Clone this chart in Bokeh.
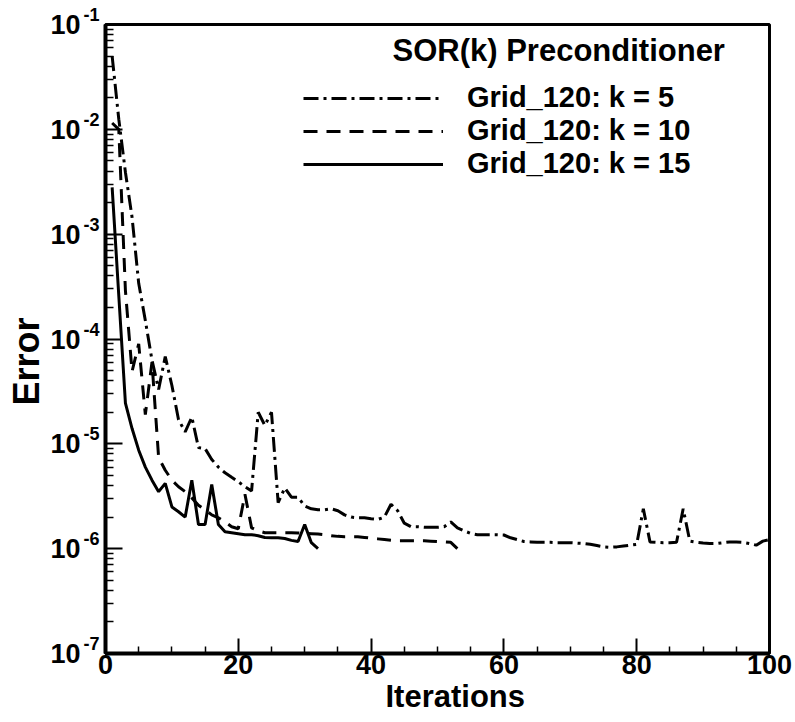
from bokeh.plotting import figure
from bokeh.models import (Range1d, FixedTicker, Legend, LegendItem, Label, Title,
                          CustomJSTickFormatter, LogAxis)
from bokeh.embed import file_html
from bokeh.resources import INLINE

# ---------------- data ----------------
iters_k5 = list(range(1, 101))
err_k5 = [5.0e-2, 1.25e-2, 3.9e-3, 1.45e-3, 3.4e-4, 1.5e-4, 6.3e-5, 3.3e-5, 6.8e-5, 3.6e-5,
          1.7e-5, 1.3e-5, 1.8e-5, 9.2e-6, 9.0e-6, 7.1e-6, 6.0e-6, 5.3e-6, 4.8e-6, 4.35e-6,
          3.9e-6, 3.55e-6, 2.0e-5, 1.5e-5, 2.0e-5, 2.75e-6, 3.8e-6, 3.1e-6, 3.1e-6, 2.55e-6,
          2.4e-6, 2.35e-6, 2.35e-6, 2.4e-6, 2.3e-6, 2.1e-6, 2.0e-6, 1.97e-6, 1.97e-6, 1.93e-6,
          1.9e-6, 2.0e-6, 2.65e-6, 2.3e-6, 1.75e-6, 1.62e-6, 1.62e-6, 1.6e-6, 1.6e-6, 1.6e-6,
          1.62e-6, 1.8e-6, 1.58e-6, 1.48e-6, 1.4e-6, 1.36e-6, 1.36e-6, 1.36e-6, 1.36e-6, 1.35e-6,
          1.27e-6, 1.22e-6, 1.17e-6, 1.16e-6, 1.15e-6, 1.15e-6, 1.15e-6, 1.14e-6, 1.14e-6, 1.14e-6,
          1.13e-6, 1.12e-6, 1.1e-6, 1.07e-6, 1.04e-6, 1.03e-6, 1.04e-6, 1.06e-6, 1.08e-6, 1.1e-6,
          2.4e-6, 1.16e-6, 1.15e-6, 1.14e-6, 1.14e-6, 1.15e-6, 2.4e-6, 1.18e-6, 1.15e-6, 1.13e-6,
          1.12e-6, 1.12e-6, 1.14e-6, 1.16e-6, 1.16e-6, 1.15e-6, 1.12e-6, 1.08e-6, 1.18e-6, 1.22e-6]

iters_k10 = list(range(1, 54))
err_k10 = [1.15e-2, 1.0e-2, 2.9e-4, 4.9e-5, 9.0e-5, 1.9e-5, 6.0e-5, 7.4e-6, 5.6e-6, 4.5e-6,
           3.9e-6, 3.5e-6, 3.05e-6, 2.6e-6, 2.35e-6, 2.1e-6, 1.97e-6, 1.8e-6, 1.62e-6, 1.55e-6,
           3.3e-6, 1.58e-6, 1.48e-6, 1.42e-6, 1.42e-6, 1.42e-6, 1.42e-6, 1.42e-6, 1.41e-6, 1.4e-6,
           1.39e-6, 1.38e-6, 1.36e-6, 1.33e-6, 1.31e-6, 1.3e-6, 1.3e-6, 1.3e-6, 1.28e-6, 1.26e-6,
           1.24e-6, 1.22e-6, 1.2e-6, 1.19e-6, 1.19e-6, 1.19e-6, 1.19e-6, 1.19e-6, 1.18e-6, 1.17e-6,
           1.16e-6, 1.15e-6, 1.0e-6]

iters_k15 = list(range(1, 33))
err_k15 = [2.8e-3, 2.6e-4, 2.45e-5, 1.4e-5, 8.7e-6, 6.0e-6, 4.5e-6, 3.5e-6, 4.2e-6, 2.5e-6,
           2.25e-6, 2.0e-6, 4.5e-6, 1.7e-6, 1.7e-6, 4.1e-6, 1.7e-6, 1.45e-6, 1.42e-6, 1.39e-6,
           1.36e-6, 1.36e-6, 1.33e-6, 1.28e-6, 1.27e-6, 1.27e-6, 1.25e-6, 1.2e-6, 1.17e-6, 1.7e-6,
           1.14e-6, 1.0e-6]

series_labels = ["Grid_120: k = 5", "Grid_120: k = 10", "Grid_120: k = 15"]
legend_title = "SOR(k) Preconditioner"
x_title = "Iterations"
y_title = "Error"

x_ticks = [0, 20, 40, 60, 80, 100]
x_minor = [v for v in range(0, 101, 5) if v % 20 != 0]
y_ticks = [1e-7, 1e-6, 1e-5, 1e-4, 1e-3, 1e-2, 1e-1]
y_tick_base = ["10", "10", "10", "10", "10", "10", "10"]
y_tick_exps = ["-7", "-6", "-5", "-4", "-3", "-2", "-1"]
y_minor = [m * 10.0 ** e for e in range(-7, -1) for m in range(2, 10)]

FONT = "Liberation Sans"

LOOKUP = """
let best = 0;
for (let i = 0; i < vals.length; i++) {
  if (Math.abs(Math.log10(vals[i] / tick)) < 1e-6) { best = i; }
}
return labels[best] + suffix;
"""

# ---------------- figure ----------------
p = figure(width=795, height=722, y_axis_type="log",
           x_range=Range1d(0, 100), y_range=Range1d(1e-7, 1e-1),
           output_backend="svg", toolbar_location=None,
           min_border_left=105, min_border_right=26,
           min_border_top=24, min_border_bottom=69)
p.background_fill_color = "white"
p.border_fill_color = "white"
p.outline_line_color = "black"
p.outline_line_width = 3
p.xgrid.visible = False
p.ygrid.visible = False

# x axis
xa = p.xaxis[0]
xa.ticker = FixedTicker(ticks=x_ticks, minor_ticks=x_minor)
xa.axis_line_width = 4
xa.major_tick_in = 15
xa.major_tick_out = 0
xa.minor_tick_in = 7
xa.minor_tick_out = 0
xa.major_tick_line_width = 2
xa.minor_tick_line_width = 1.5
xa.major_label_text_font = FONT
xa.major_label_text_font_style = "bold"
xa.major_label_text_font_size = "27px"
xa.major_label_text_color = "black"
xa.major_label_standoff = 1

# y axis (nearest the frame): line, inner ticks and the superscript exponents
ya = p.yaxis[0]
ya.ticker = FixedTicker(ticks=y_ticks, minor_ticks=y_minor)
ya.axis_line_width = 4
ya.major_tick_in = 17
ya.major_tick_out = 0
ya.minor_tick_in = 8
ya.minor_tick_out = 0
ya.major_tick_line_width = 2
ya.minor_tick_line_width = 1.5
ya.formatter = CustomJSTickFormatter(args=dict(vals=y_ticks, labels=y_tick_exps, suffix="\n"),
                                     code=LOOKUP)
ya.major_label_text_font = FONT
ya.major_label_text_font_style = "bold"
ya.major_label_text_font_size = "18px"
ya.major_label_text_color = "black"
ya.major_label_text_line_height = 0.95
ya.major_label_standoff = 6

# second left axis carrying the "10" bases
yb = LogAxis(ticker=FixedTicker(ticks=y_ticks, minor_ticks=[]),
             formatter=CustomJSTickFormatter(args=dict(vals=y_ticks, labels=y_tick_base, suffix=""),
                                             code=LOOKUP))
yb.axis_line_alpha = 0
yb.major_tick_in = 0
yb.major_tick_out = 0
yb.minor_tick_in = 0
yb.minor_tick_out = 0
yb.major_label_text_font = FONT
yb.major_label_text_font_style = "bold"
yb.major_label_text_font_size = "27px"
yb.major_label_text_color = "black"
yb.major_label_standoff = 0
p.add_layout(yb, "left")

# axis titles
p.add_layout(Title(text=y_title, align="left", offset=248, standoff=2,
                   text_font=FONT, text_font_style="bold",
                   text_font_size="36px", text_color="black"), "left")
p.add_layout(Title(text=x_title, align="left", offset=280, standoff=0,
                   text_font=FONT, text_font_style="bold",
                   text_font_size="31px", text_color="black"), "below")

# lines
r5 = p.line(iters_k5, err_k5, line_color="black", line_width=3, line_dash="15 5 3 5")
r10 = p.line(iters_k10, err_k10, line_color="black", line_width=3, line_dash="14 9")
r15 = p.line(iters_k15, err_k15, line_color="black", line_width=3)

legend = Legend(items=[LegendItem(label=series_labels[0], renderers=[r5]),
                       LegendItem(label=series_labels[1], renderers=[r10]),
                       LegendItem(label=series_labels[2], renderers=[r15])],
                location=(198, 473))
legend.glyph_width = 140
legend.glyph_height = 30
legend.label_height = 30
legend.label_standoff = 24
legend.spacing = 0
legend.padding = 0
legend.margin = 0
legend.border_line_alpha = 0
legend.background_fill_alpha = 0
legend.label_text_font = FONT
legend.label_text_font_style = "bold"
legend.label_text_font_size = "29px"
legend.label_text_color = "black"
p.add_layout(legend)

p.add_layout(Label(x=287, y=603, x_units="screen", y_units="screen", text=legend_title,
                   text_align="left", text_baseline="middle",
                   text_font=FONT, text_font_style="bold",
                   text_font_size="31px", text_color="black"))

open("out.html", "w").write(file_html(p, INLINE))
